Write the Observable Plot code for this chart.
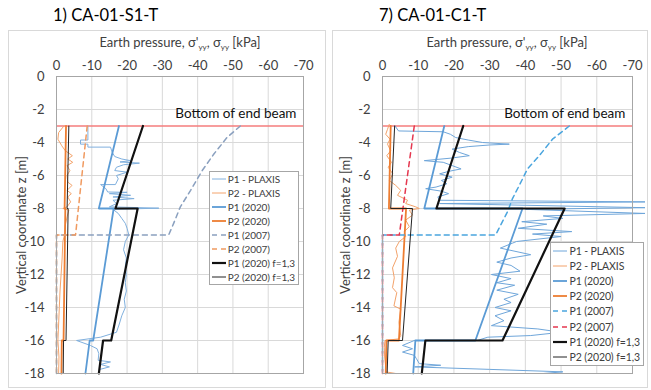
<!DOCTYPE html>
<html><head><meta charset="utf-8">
<script src="https://cdn.jsdelivr.net/npm/d3@7"></script>
<script src="https://cdn.jsdelivr.net/npm/@observablehq/plot@0.6"></script>
<style>
body{margin:0;background:#fff;font-family:Lato,"Open Sans",sans-serif;}
#root{position:relative;width:651px;height:390px;overflow:hidden;background:#fff;}
.panel{position:absolute;border:1px solid #d9d9d9;box-sizing:border-box;}
.title{position:absolute;font-size:16.5px;color:#000;white-space:nowrap;line-height:20px;}
.xlabel{position:absolute;font-size:13px;color:#404040;transform:translateX(-50%);white-space:nowrap;line-height:16px;}
.xlabel sub{font-size:8px;vertical-align:-3px;}
.chart{position:absolute;}
.legend{position:absolute;border:1px solid #a6a6a6;background:#fff;color:#404040;box-sizing:border-box;letter-spacing:-0.1px;}
.legend .row{display:flex;align-items:center;white-space:nowrap;}
.legend svg{flex:none;margin-right:1px;}
</style>
</head><body><div id="root"></div>
<script>
// ---- shared axes ----
const zTicks = [0,-2,-4,-6,-8,-10,-12,-14,-16,-18];
const xTicks = [0,-10,-20,-30,-40,-50,-60,-70];
const beamZ = -3;
const beamLabel = "Bottom of end beam";
const titles = ["1) CA-01-S1-T", "7) CA-01-C1-T"];
const yLabel = "Vertical coordinate z [m]";
const legendLabels = ["P1 - PLAXIS","P2 - PLAXIS","P1 (2020)","P2 (2020)","P1 (2007)","P2 (2007)","P1 (2020) f=1,3","P2 (2020) f=1,3"];

// ---- panel 1: CA-01-S1-T  [pressure kPa, z m] ----
const s1_P1_plaxis = [[-8.9,-3.0],[-8.9,-3.85],[-6.8,-3.85],[-6.8,-4.1],[-8.9,-4.1],[-8.9,-4.28],[-15.3,-4.28],[-15.8,-4.6],[-16.5,-4.85],[-18.5,-5.0],[-21.0,-5.1],[-18.0,-5.18],[-23.5,-5.25],[-19.0,-5.35],[-17.0,-5.5],[-16.5,-5.7],[-20.0,-5.8],[-17.0,-6.0],[-17.5,-6.2],[-16.7,-6.55],[-12.5,-6.55],[-14.0,-6.8],[-14.5,-7.0],[-20.0,-7.02],[-15.0,-7.1],[-21.0,-7.2],[-16.0,-7.3],[-22.0,-7.4],[-16.0,-7.5],[-17.0,-7.7],[-15.0,-7.9],[-29.0,-7.98],[-16.0,-8.05],[-17.5,-8.3],[-18.5,-8.6],[-19.5,-8.9],[-20.0,-9.2],[-20.5,-9.6],[-19.5,-10.0],[-19.0,-10.5],[-19.8,-11.0],[-19.5,-11.5],[-19.8,-12.0],[-19.5,-12.5],[-19.8,-13.0],[-19.2,-13.5],[-19.5,-14.0],[-18.5,-14.5],[-17.8,-15.0],[-17.0,-15.5],[-12.5,-15.8],[-5.7,-16.0],[-9.6,-16.3],[-11.5,-16.5],[-12.0,-16.8],[-11.8,-17.2],[-15.3,-17.3],[-12.5,-17.45],[-15.0,-17.6],[-12.3,-17.75],[-11.9,-18.0]];
const s1_P2_plaxis = [[-2.1,-3.0],[-0.6,-3.4],[-0.4,-3.8],[-1.5,-4.2],[-2.5,-4.5],[-3.5,-4.65],[-4.5,-4.8],[-3.2,-5.0],[-4.6,-5.2],[-3.0,-5.4],[-3.8,-5.7],[-3.0,-6.0],[-3.2,-6.4],[-4.4,-6.6],[-3.0,-6.9],[-4.2,-7.1],[-3.2,-7.3],[-4.0,-7.6],[-3.0,-7.9],[-1.8,-8.0],[-3.5,-8.1],[-3.0,-8.5],[-2.5,-9.0],[-2.4,-9.5],[-1.8,-10.0],[-1.6,-11.0],[-1.3,-12.0],[-1.0,-13.0],[-0.8,-14.0],[-0.6,-15.0],[-0.4,-16.0],[-0.7,-17.0],[-0.6,-18.0]];
const s1_P1_2020 = [[-17.7,-3],[-12.0,-8],[-16.2,-8],[-10.4,-16],[-9.4,-16],[-8.2,-18]];
const s1_P2_2020 = [[-2.7,-3],[-2.3,-8],[-2.5,-8],[-2.0,-16],[-1.5,-16],[-1.4,-18]];
const s1_P1_2007 = [[-52.1,-3.0],[-48.3,-3.7],[-44.6,-4.7],[-41.3,-5.7],[-38.0,-6.9],[-35.1,-7.9],[-33.2,-8.9],[-31.8,-9.6],[0,-9.6],[0,-18]];
const s1_P2_2007 = [[-8.7,-3.0],[-5.4,-9.6],[0,-9.6],[0,-18]];
const s1_P1_f13 = [[-24.5,-3],[-16.7,-8],[-23.0,-8],[-15.5,-16],[-13.2,-16],[-12.0,-18]];
const s1_P2_f13 = [[-3.5,-3],[-3.0,-8],[-3.3,-8],[-2.7,-16],[-2.0,-16],[-1.9,-18]];

// ---- panel 2: CA-01-C1-T ----
const c1_P1_plaxis = [[-3.5,-3.0],[-4.5,-3.3],[-17,-3.35],[-19,-3.5],[-20.5,-3.7],[-24,-3.85],[-28,-4.0],[-35.5,-4.1],[-30,-4.15],[-24,-4.25],[-19.5,-4.4],[-21.5,-4.6],[-24.3,-4.8],[-19,-4.95],[-11.7,-5.1],[-17,-5.2],[-19.5,-5.4],[-22,-5.6],[-18.5,-5.75],[-16,-5.9],[-19.5,-6.1],[-16.5,-6.3],[-18,-6.5],[-15,-6.7],[-12.1,-6.8],[-16.5,-6.95],[-18.5,-7.1],[-15.5,-7.3],[-16,-7.5],[-73.5,-7.6],[-16,-7.7],[-73.5,-7.95],[-40,-8.05],[-73.5,-8.3],[-45,-8.45],[-50.5,-8.6],[-39,-8.8],[-46,-8.95],[-38,-9.2],[-53,-9.4],[-42,-9.55],[-50,-9.7],[-37.5,-10.0],[-36.4,-10.1],[-33,-10.4],[-41.5,-10.8],[-36,-11.0],[-32,-11.25],[-36,-11.45],[-38.5,-11.8],[-30.5,-12.0],[-36,-12.25],[-32,-12.5],[-37,-12.65],[-32,-12.95],[-38,-13.2],[-34,-13.5],[-36,-13.7],[-31.5,-14.0],[-36,-14.2],[-31.5,-14.5],[-34,-14.8],[-30.5,-15.1],[-43.5,-15.3],[-50,-15.5],[-41.5,-15.7],[-29.5,-15.8],[-26.5,-16.0],[-8.9,-16.0],[-5.6,-16.3],[-8.4,-16.5],[-5.6,-16.7],[-8.9,-16.9],[-9.5,-17.1],[-10.3,-17.4],[-16.3,-17.5],[-9,-17.6],[-30,-17.75],[-50.5,-17.9],[-45,-18.0],[-8,-18.0]];
const c1_P2_plaxis = [[-1.9,-2.9],[-1.4,-3.2],[-0.9,-3.5],[-2.1,-3.8],[-1.4,-4.1],[-2.3,-4.5],[-1.2,-4.8],[-2.5,-5.2],[-1.6,-5.5],[-2.9,-5.9],[-1.9,-6.3],[-3.7,-6.6],[-5.1,-6.9],[-4.2,-7.2],[-7.0,-7.5],[-6.5,-7.7],[-9.3,-7.9],[-10.3,-8.0],[-7.5,-8.1],[-8.4,-8.4],[-6.5,-8.7],[-7.5,-9.1],[-6.1,-9.4],[-6.5,-9.7],[-4.7,-10.0],[-3.7,-10.4],[-4.2,-10.9],[-2.8,-11.6],[-3.3,-12.2],[-2.8,-12.8],[-4.0,-13.1],[-3.2,-13.9],[-5.1,-14.1],[-4.6,-14.9],[-5.1,-15.7],[-4.6,-15.9],[-0.7,-16.0],[-0.5,-16.4],[-0.6,-17.0],[-0.9,-17.6],[-0.9,-17.9],[-3.7,-18.0]];
const c1_P1_2020 = [[-17.3,-3],[-11.7,-8],[-39.2,-8],[-26.0,-16],[-9.2,-16],[-8.6,-18]];
const c1_P2_2020 = [[-2.3,-3],[-1.8,-8],[-6.6,-8],[-4.6,-16],[-1.1,-16],[-0.9,-18]];
const c1_P1_2007 = [[-52.3,-3.0],[-47.6,-3.8],[-43.9,-4.8],[-40.6,-5.6],[-38.3,-6.6],[-36.4,-7.4],[-35.0,-8.2],[-33.1,-9.0],[-31.7,-9.6],[0,-9.6],[0,-18]];
const c1_P2_2007 = [[-8.9,-3.0],[-4.7,-9.6],[0,-9.6],[0,-18]];
const c1_P1_f13 = [[-22.6,-3],[-15.1,-8],[-51.0,-8],[-33.6,-16],[-12.0,-16],[-11.0,-18]];
const c1_P2_f13 = [[-3.4,-3],[-2.3,-8],[-8.4,-8],[-5.6,-16],[-1.6,-16],[-1.3,-18]];

// ---- styles ----
const leftStyles = [
  {c:"#80b0de", w:1},{c:"#f4a46c", w:1},{c:"#5b9bd5", w:1.8},{c:"#ed7d31", w:1.8},
  {c:"#8aa0bf", w:1.5, d:"5,4"},{c:"#f09a60", w:1.5, d:"5,4"},{c:"#111", w:2.2},{c:"#222", w:1}
];
const rightStyles = [
  {c:"#6fa6da", w:1},{c:"#f3a26a", w:1},{c:"#5b9bd5", w:1.8},{c:"#ed7d31", w:1.8},
  {c:"#4aa5de", w:1.5, d:"5,4"},{c:"#e5374f", w:1.5, d:"5,4"},{c:"#111", w:2.2},{c:"#222", w:1}
];

const root = document.getElementById("root");

function chart(series, styles, cfg) {
  const marks = [
    Plot.gridX(xTicks, {stroke:"#d9d9d9", strokeOpacity:1}),
    Plot.gridY(zTicks, {stroke:"#d9d9d9", strokeOpacity:1}),
    Plot.axisX(xTicks, {anchor:"top", tickSize:0, tickPadding:7, tickFormat:d=>String(d), label:null}),
    Plot.axisY(zTicks, {anchor:"left", tickSize:0, tickPadding:12, tickFormat:d=>String(d), label:yLabel, labelAnchor:"center", labelArrow:"none", labelOffset:cfg.labelOffset}),
    Plot.ruleY([beamZ], {stroke:"#f47c7c", strokeWidth:1.6}),
    ...series.map((s,i) => Plot.line(s, {x:d=>d[0], y:d=>d[1], stroke:styles[i].c, strokeWidth:styles[i].w, strokeDasharray:styles[i].d})),
    Plot.frame({stroke:"#a6a6a6"}),
    Plot.text([beamLabel], {x:-68, y:-2.25, text:d=>d, textAnchor:"end", fontSize:13.5, fill:"#111"})
  ];
  const svg = Plot.plot({
    width: cfg.width, height: cfg.height,
    marginLeft: cfg.mL, marginRight: cfg.mR, marginTop: 46, marginBottom: 15,
    x: {domain:[0,-70]}, y: {domain:[-18,0]},
    style: "font-family:Lato,'Open Sans',sans-serif;font-size:13px;color:#404040;background:transparent;overflow:visible;",
    marks
  });
  const div = document.createElement("div");
  div.className = "chart";
  div.style.left = cfg.left + "px"; div.style.top = cfg.top + "px";
  div.appendChild(svg);
  return div;
}

function addPanel(i, series, styles, cfg, lg) {
  const p = document.createElement("div");
  p.className = "panel";
  Object.assign(p.style, {left:cfg.left+"px", top:cfg.top+"px", width:cfg.width+"px", height:cfg.height+"px"});
  root.appendChild(p);
  root.appendChild(chart(series, styles, cfg));
  const t = document.createElement("div");
  t.className = "title"; t.textContent = titles[i];
  Object.assign(t.style, {left:cfg.titleX+"px", top:"5px"});
  root.appendChild(t);
  const xl = document.createElement("div");
  xl.className = "xlabel";
  xl.innerHTML = "Earth pressure, σ'<sub>yy</sub>, σ<sub>yy</sub> [kPa]";
  Object.assign(xl.style, {left:cfg.xlabelX+"px", top:"34px"});
  root.appendChild(xl);
  // legend
  const L = document.createElement("div");
  L.className = "legend";
  Object.assign(L.style, {right:lg.right+"px", top:lg.y+"px", height:lg.h+"px", fontSize:lg.fs+"px", padding:"0 3px 0 1px"});
  legendLabels.forEach((lab, k) => {
    const st = styles[k];
    const r = document.createElement("div");
    r.className = "row"; r.style.height = lg.rh + "px";
    r.innerHTML = `<svg width="16" height="8"><line x1="1" y1="4" x2="15" y2="4" stroke="${st.c}" stroke-width="${st.w}" ${st.d ? `stroke-dasharray="${st.d}"` : ""}/></svg><span>${lab}</span>`;
    L.appendChild(r);
  });
  root.appendChild(L);
}

addPanel(0,
  [s1_P1_plaxis, s1_P2_plaxis, s1_P1_2020, s1_P2_2020, s1_P1_2007, s1_P2_2007, s1_P1_f13, s1_P2_f13],
  leftStyles,
  {left:8, top:30, width:318, height:358, mL:48, mR:23, labelOffset:40, titleX:53, xlabelX:180},
  {right:352, y:171, h:114, fs:10, rh:14}
);
addPanel(1,
  [c1_P1_plaxis, c1_P2_plaxis, c1_P1_2020, c1_P2_2020, c1_P1_2007, c1_P2_2007, c1_P1_f13, c1_P2_f13],
  rightStyles,
  {left:332, top:30, width:316, height:358, mL:50, mR:16, labelOffset:42, titleX:379, xlabelX:507},
  {right:7, y:242, h:124, fs:10.5, rh:15.2}
);
</script></body></html>
